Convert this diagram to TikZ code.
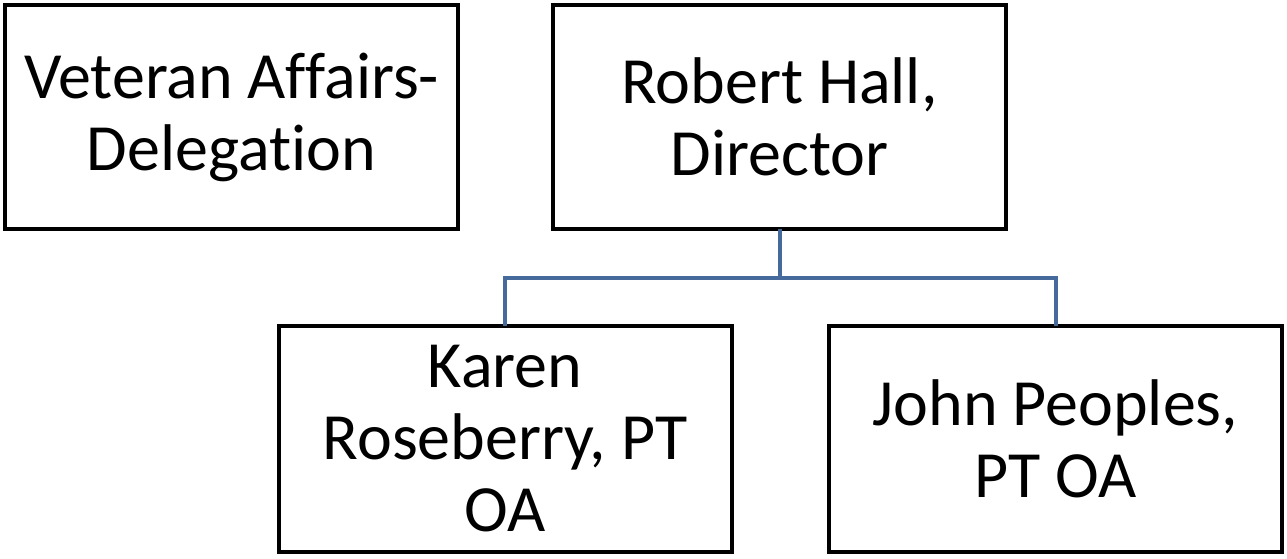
\documentclass[tikz,border=0pt]{standalone}
\usepackage{fontspec}
\setmainfont[Ligatures={NoCommon}]{Carlito}
\usetikzlibrary{positioning}
\definecolor{linkblue}{RGB}{70,106,156}
\tikzstyle{orgbox}=[draw, line width=4pt, outer sep=0pt,
	minimum width=453pt, minimum height=224pt,
	align=center, font=\fontsize{66}{72}\selectfont]
\begin{document}
\begin{tikzpicture}[x=1pt,y=-1pt]
	\useasboundingbox (0,0) rectangle (1287,559);
	% draw rectangle nodes
	\node[orgbox] (veteran) at (231.5,117) {
	Veteran Affairs-\\Delegation
	};
	\node[orgbox,
	right=95pt of veteran] (hall) {
	Robert Hall,\\Director
	};
	\node[orgbox,
	minimum height=226pt,
	below=97pt of hall,
	xshift=-274.5pt] (karen) {
	Karen\\Roseberry, PT\\OA
	};
	\node[orgbox,
	minimum height=226pt,
	below=97pt of hall,
	xshift=276pt] (john) {
	John Peoples,\\PT OA
	};
	% Connectors
	\coordinate (fork) at (hall.south |- 0,278);
	\draw[linkblue, line width=4pt] (hall.south) -- (fork) -| (karen.north);
	\draw[linkblue, line width=4pt] (fork) -| (john.north);
\end{tikzpicture}
\end{document}
